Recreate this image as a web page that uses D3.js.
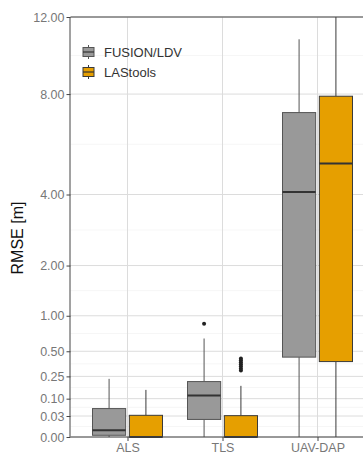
<!DOCTYPE html>
<html><head><meta charset="utf-8">
<script src="https://cdn.jsdelivr.net/npm/d3@7"></script>
<style>body{margin:0;background:#fff}svg{display:block}</style>
</head><body><svg id="c" width="363" height="454"></svg>
<script>
const categories = ["ALS", "TLS", "UAV-DAP"];
const seriesNames = ["FUSION/LDV", "LAStools"];
// [lower whisker, Q1, median, Q3, upper whisker]
const fusionStats = [[0, 0.0002, 0.003, 0.055, 0.23], [0, 0.021, 0.117, 0.209, 0.66], [0, 0.434, 4.08, 7.16, 10.76]];
const lastoolsStats = [[0, 0, 0, 0.032, 0.151], [0, 0, 0, 0.031, 0.178], [0, 0.387, 5.09, 7.9, 12]];
const fusionOutliers = [[], [0.872], []];
const lastoolsOutliers = [[], [0.30, 0.32, 0.34, 0.36, 0.38, 0.40, 0.42], []];
const yTicks = [0, 0.03, 0.1, 0.25, 0.5, 1, 2, 4, 8, 12];

const fills = ["#999999", "#E69F00"];
const strokes = ["#555555", "#3a3a3a"];

const svg = d3.select("#c");
const plotLeft = 70.5, plotBottom = 437, plotTop = 17;
const x0 = d3.scalePoint().domain(categories).range([plotLeft, plotLeft + 304]).padding(0.6);
const x1 = d3.scaleBand().domain(seriesNames).range([-35, 35]).paddingInner(0.1);
const y = d3.scaleSqrt().domain([0, 12]).range([plotBottom, plotTop]);

// minor gridlines (midpoints in sqrt space)
const sq = yTicks.map(Math.sqrt);
const minor = [];
for (let i = 0; i < sq.length - 1; i++) minor.push(Math.pow((sq[i] + sq[i + 1]) / 2, 2));
const g = svg.append("g");
g.selectAll(".mi").data(minor).join("line")
  .attr("x1", plotLeft).attr("x2", 363).attr("y1", d => y(d)).attr("y2", d => y(d))
  .attr("stroke", "#f0f0f0").attr("stroke-width", 0.6);
g.selectAll(".ma").data(yTicks).join("line")
  .attr("x1", plotLeft).attr("x2", 363).attr("y1", d => y(d)).attr("y2", d => y(d))
  .attr("stroke", "#dcdcdc").attr("stroke-width", 1);
g.selectAll(".vx").data(categories).join("line")
  .attr("x1", d => x0(d)).attr("x2", d => x0(d)).attr("y1", plotTop).attr("y2", plotBottom)
  .attr("stroke", "#dcdcdc").attr("stroke-width", 1);

// boxes
const allStats = [fusionStats, lastoolsStats];
const allOut = [fusionOutliers, lastoolsOutliers];
seriesNames.forEach((s, si) => {
  categories.forEach((c, ci) => {
    const st = allStats[si][ci];
    const cx = x0(c) + x1(s) + x1.bandwidth() / 2;
    const bw = x1.bandwidth();
    const gg = svg.append("g");
    gg.append("line").attr("x1", cx).attr("x2", cx).attr("y1", y(st[4])).attr("y2", y(st[3]))
      .attr("stroke", strokes[si]).attr("stroke-width", 1);
    gg.append("line").attr("x1", cx).attr("x2", cx).attr("y1", y(st[1])).attr("y2", y(st[0]))
      .attr("stroke", strokes[si]).attr("stroke-width", 1);
    gg.append("rect").attr("x", cx - bw / 2).attr("width", bw)
      .attr("y", y(st[3])).attr("height", Math.max(0, y(st[1]) - y(st[3])))
      .attr("fill", fills[si]).attr("stroke", strokes[si]).attr("stroke-width", 1);
    gg.append("line").attr("x1", cx - bw / 2).attr("x2", cx + bw / 2).attr("y1", y(st[2])).attr("y2", y(st[2]))
      .attr("stroke", "#333").attr("stroke-width", 2);
    gg.selectAll("circle").data(allOut[si][ci]).join("circle")
      .attr("cx", cx).attr("cy", d => y(d)).attr("r", 2).attr("fill", "#222");
  });
});

// panel border & axes
svg.append("line").attr("x1", plotLeft).attr("x2", 363).attr("y1", plotTop).attr("y2", plotTop).attr("stroke", "#444").attr("stroke-width", 1);
svg.append("line").attr("x1", plotLeft).attr("x2", 363).attr("y1", plotBottom).attr("y2", plotBottom).attr("stroke", "#444").attr("stroke-width", 1);

const yAxis = svg.append("g").attr("transform", `translate(${plotLeft},0)`)
  .call(d3.axisLeft(y).tickValues(yTicks).tickFormat(d3.format(".2f")).tickSize(4).tickPadding(2));
yAxis.select(".domain").attr("stroke", "#444").attr("d", `M-0.5,${plotTop}V${plotBottom}`);
yAxis.selectAll(".tick line").attr("stroke", "#444");
yAxis.selectAll("text").attr("fill", "#777").style("font-family", "Liberation Sans, Arial, sans-serif").style("font-size", "12.5px");

const xAxis = svg.append("g").attr("transform", `translate(0,${plotBottom})`)
  .call(d3.axisBottom(x0).tickSize(4).tickPadding(2));
xAxis.select(".domain").remove();
xAxis.selectAll(".tick line").attr("stroke", "#444");
xAxis.selectAll("text").attr("fill", "#777").style("font-family", "Liberation Sans, Arial, sans-serif").style("font-size", "12.5px");

svg.append("text").attr("transform", "translate(23,238) rotate(-90)")
  .attr("text-anchor", "middle").attr("fill", "#111")
  .style("font-family", "Liberation Sans, Arial, sans-serif").style("font-size", "16px")
  .text("RMSE [m]");

// legend
const lg = svg.append("g");
seriesNames.forEach((s, i) => {
  const cy = 52 + i * 20;
  const kx = 88.5;
  lg.append("line").attr("x1", kx).attr("x2", kx).attr("y1", cy - 7).attr("y2", cy + 7).attr("stroke", strokes[i]);
  lg.append("rect").attr("x", kx - 5.5).attr("y", cy - 4.5).attr("width", 11).attr("height", 9)
    .attr("fill", fills[i]).attr("stroke", strokes[i]);
  lg.append("line").attr("x1", kx - 5.5).attr("x2", kx + 5.5).attr("y1", cy).attr("y2", cy).attr("stroke", "#333").attr("stroke-width", 1.2);
  lg.append("text").attr("x", 104).attr("y", cy).attr("dy", "0.35em").attr("fill", "#333")
    .style("font-family", "Liberation Sans, Arial, sans-serif").style("font-size", "13px").text(s);
});
</script></body></html>
